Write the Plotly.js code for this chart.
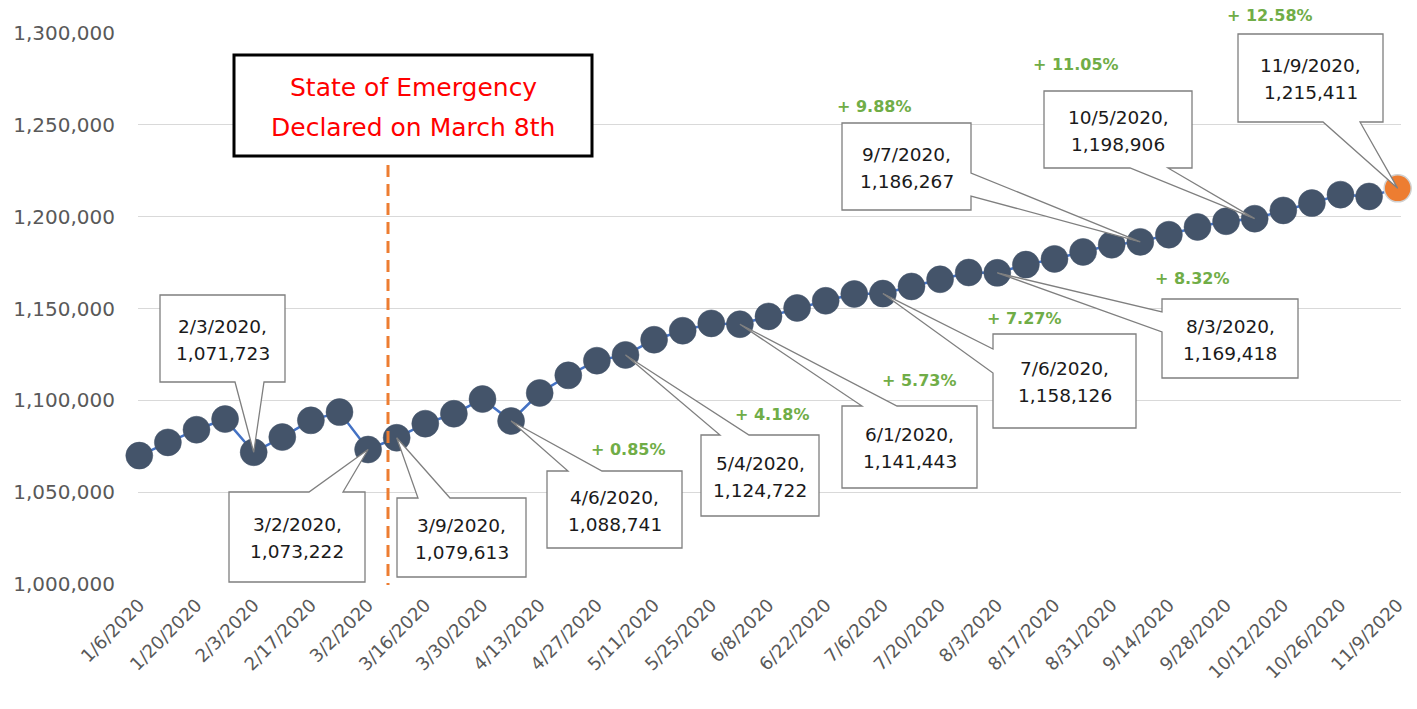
<!DOCTYPE html>
<html><head><meta charset="utf-8">
<script src="https://cdn.plot.ly/plotly-3.0.1.min.js"></script>
<style>html,body{margin:0;padding:0;background:#fff}</style>
</head><body>
<div id="chart" style="width:1417px;height:709px"></div>
<script>
// ---------- DATA ----------
const weeks = ['1/6/2020','1/13/2020','1/20/2020','1/27/2020','2/3/2020','2/10/2020','2/17/2020','2/24/2020',
  '3/2/2020','3/9/2020','3/16/2020','3/23/2020','3/30/2020','4/6/2020','4/13/2020','4/20/2020','4/27/2020',
  '5/4/2020','5/11/2020','5/18/2020','5/25/2020','6/1/2020','6/8/2020','6/15/2020','6/22/2020','6/29/2020',
  '7/6/2020','7/13/2020','7/20/2020','7/27/2020','8/3/2020','8/10/2020','8/17/2020','8/24/2020','8/31/2020',
  '9/7/2020','9/14/2020','9/21/2020','9/28/2020','10/5/2020','10/12/2020','10/19/2020','10/26/2020','11/2/2020','11/9/2020'];
const employment = [1069900,1077100,1084000,1089800,1071723,1080000,1089100,1093600,
  1073222,1079613,1087300,1092700,1100700,1088741,1104000,1113600,1121600,
  1124722,1133000,1137900,1141900,1141443,1145700,1150300,1154200,1157900,
  1158126,1162000,1165900,1169600,1169418,1173900,1177000,1180800,1184700,
  1186267,1190200,1194400,1197500,1198906,1203400,1207400,1212000,1211000,1215411];
const tickWeeks = weeks.filter((w, i) => i % 2 === 0);
const yTicks = [1000000,1050000,1100000,1150000,1200000,1250000,1300000];
const baseWeek = '3/9/2020';
const calloutWeeks = ['2/3/2020','3/2/2020','3/9/2020','4/6/2020','5/4/2020','6/1/2020','7/6/2020','8/3/2020','9/7/2020','10/5/2020','11/9/2020'];
const pctWeeks = ['4/6/2020','5/4/2020','6/1/2020','7/6/2020','8/3/2020','9/7/2020','10/5/2020','11/9/2020'];
const emergencyLines = ['State of Emergency','Declared on March 8th'];

// ---------- LAYOUT GEOMETRY (pixels) ----------
const W = 1417, H = 709, M = {l:138, r:16, t:33, b:125};
const pw = W - M.l - M.r, ph = H - M.t - M.b;
const step = 28.6;
const xr = [-0.045, -0.045 + pw/step];
const yr = [1000000, 1300000];
const px2x = p => xr[0] + (p - M.l)/pw*(xr[1]-xr[0]);
const py2y = p => yr[1] - (p - M.t)/ph*(yr[1]-yr[0]);
const px2p = p => (p - M.l)/pw;
const py2p = p => 1 - (p - M.t)/ph;

// callout boxes [x0,y0,x1,y1], pointer side and base span
const calloutBoxes = [
  {box:[160,295,285,382], side:'bottom', base:[235,264]},
  {box:[229,492,365,582], side:'top', base:[309,343]},
  {box:[397,498,526,577], side:'top', base:[418,450]},
  {box:[547,471,682,548], side:'top', base:[568,602]},
  {box:[701,435,819,516], side:'top', base:[720,749]},
  {box:[842,406,977,488], side:'top', base:[862,897]},
  {box:[993,334,1136,428], side:'left', base:[349,373]},
  {box:[1162,299,1298,378], side:'left', base:[312,332]},
  {box:[842,123,971,210], side:'right', base:[173,196]},
  {box:[1044,91,1192,168], side:'bottom', base:[1130,1168]},
  {box:[1238,34,1383,122], side:'bottom', base:[1323,1360]}
];
const pctPos = [[628,449],[772,414],[919,380],[1024,318],[1192,278],[874,106],[1076,65],[1270,16]];

const xIdx = weeks.map((w, i) => i);
const fmt = v => v.toLocaleString('en-US');
const baseVal = employment[weeks.indexOf(baseWeek)];
const lastIdx = weeks.length - 1;

const trace = {
  x: xIdx, y: employment, type:'scatter', mode:'lines+markers', cliponaxis:false,
  line:{color:'#4472C4', width:2.5},
  marker:{size:27,
    color: xIdx.map(i => i === lastIdx ? '#ED7D31' : '#44546A'),
    line:{width: xIdx.map(i => i === lastIdx ? 1.5 : 0.5), color: xIdx.map(i => i === lastIdx ? '#d0d0d0' : '#44546A')}},
  hoverinfo:'skip', showlegend:false
};

const shapes = [];
const annotations = [];
const textFont = {family:'DejaVu Sans', size:18.5, color:'#1a1a1a'};

calloutWeeks.forEach((w, k) => {
  const i = weeks.indexOf(w);
  const c = calloutBoxes[k];
  const [x0,y0,x1,y1] = c.box;
  const tip = [i, employment[i]];
  const P = (px,py) => [px2x(px), py2y(py)];
  const pts = [];
  pts.push(P(x0,y0));
  if (c.side==='top'){ pts.push(P(c.base[0],y0)); pts.push(tip); pts.push(P(c.base[1],y0)); }
  pts.push(P(x1,y0));
  if (c.side==='right'){ pts.push(P(x1,c.base[0])); pts.push(tip); pts.push(P(x1,c.base[1])); }
  pts.push(P(x1,y1));
  if (c.side==='bottom'){ pts.push(P(c.base[1],y1)); pts.push(tip); pts.push(P(c.base[0],y1)); }
  pts.push(P(x0,y1));
  if (c.side==='left'){ pts.push(P(x0,c.base[1])); pts.push(tip); pts.push(P(x0,c.base[0])); }
  const path = 'M' + pts.map(p => p[0] + ',' + p[1]).join(' L') + ' Z';
  shapes.push({type:'path', xref:'x', yref:'y', path, fillcolor:'#ffffff',
    line:{color:'#7f7f7f', width:1.3}, layer:'above'});
  const cx = (x0+x1)/2, cy = (y0+y1)/2 + 1;
  [w + ',', fmt(employment[i])].forEach((t, j) => {
    annotations.push({xref:'paper', yref:'paper', x:px2p(cx), y:py2p(cy + (j===0 ? -13.5 : 13.5)),
      text:t, showarrow:false, font:textFont, xanchor:'center', yanchor:'middle'});
  });
});

pctWeeks.forEach((w, k) => {
  const v = employment[weeks.indexOf(w)];
  const pct = (v/baseVal - 1)*100;
  annotations.push({xref:'paper', yref:'paper', x:px2p(pctPos[k][0]), y:py2p(pctPos[k][1]),
    text:'<b>+ ' + pct.toFixed(2) + '%</b>', showarrow:false,
    font:{family:'DejaVu Sans', size:16, color:'#70AD47'}, xanchor:'center', yanchor:'middle'});
});

// emergency line + box
shapes.push({type:'line', xref:'paper', yref:'paper', x0:px2p(388), x1:px2p(388), y0:py2p(165), y1:py2p(585),
  line:{color:'#ED7D31', width:3, dash:'12px,7px'}, layer:'above'});
shapes.push({type:'rect', xref:'paper', yref:'paper', x0:px2p(234), x1:px2p(592), y0:py2p(55), y1:py2p(156),
  fillcolor:'#ffffff', line:{color:'#000000', width:3}, layer:'above'});
emergencyLines.forEach((t, j) => {
  annotations.push({xref:'paper', yref:'paper', x:px2p(413), y:py2p(j===0 ? 88 : 127), text:t, showarrow:false,
    font:{family:'DejaVu Sans', size:25, color:'#FF0000'}, xanchor:'center', yanchor:'middle'});
});

const layout = {
  width:W, height:H, margin:M, paper_bgcolor:'#ffffff', plot_bgcolor:'#ffffff',
  showlegend:false,
  xaxis:{range:xr, tickmode:'array', tickvals: tickWeeks.map(w => weeks.indexOf(w)), ticktext: tickWeeks,
    tickangle:-45, showgrid:false, zeroline:false, showline:false, ticks:'', ticklabelstandoff:6,
    tickfont:{family:'DejaVu Sans', size:18, color:'#595959'}},
  yaxis:{range:yr, tickmode:'array', tickvals:yTicks, ticktext: yTicks.map(fmt), showgrid:true, gridcolor:'#d9d9d9', gridwidth:1.3,
    zeroline:false, showline:false, ticks:'', ticklabelstandoff:22,
    tickfont:{family:'DejaVu Sans', size:20, color:'#595959'}},
  shapes, annotations
};
Plotly.newPlot('chart', [trace], layout, {displayModeBar:false, staticPlot:true});
</script>
</body></html>
